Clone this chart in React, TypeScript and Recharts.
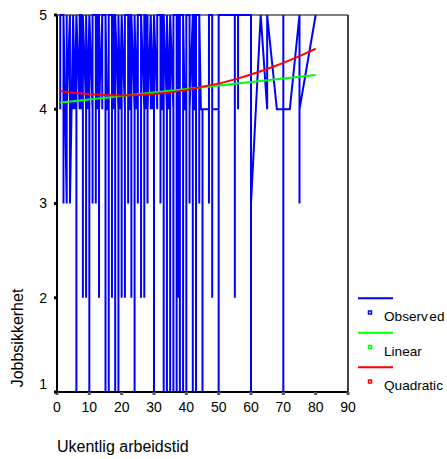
import React from "react";
import { LineChart, Line, XAxis, YAxis, ReferenceLine, Legend, Label } from "recharts";

const FONT = "'Liberation Sans', Arial, sans-serif";

// observed hours (sorted) and the job security answers recorded at each of them
const observedHours = [
  1, 2, 2.5, 3, 4, 5, 5.5, 6, 7, 7.5, 8, 9, 9.5, 10, 11, 12, 12.5, 13, 14, 15, 15.5, 16, 17, 17.5,
  18, 19, 19.5, 20, 21, 22, 22.5, 23, 24, 24.5, 25, 26, 27, 27.5, 28, 29, 29.5, 30, 31, 32, 32.5,
  33, 34, 34.5, 35, 36, 37, 37.5, 38, 39, 39.5, 40, 41, 42, 42.5, 43, 44, 44.5, 45, 47, 48, 50,
  55, 56, 60, 63, 65, 68, 70, 72, 75, 80,
];
const observedScores = [
  [4, 5], [5, 3, 5], [4], [3, 5, 4], [5, 3], [5, 4, 5], [4], [5, 1, 4, 5], [4, 5], [5, 4],
  [5, 2, 5], [4, 2, 5], [4], [5, 1, 3, 5], [4, 3, 5], [5, 3, 4, 5], [4, 5], [5, 2, 4], [5, 4, 5],
  [5, 1, 5], [4], [4, 1, 2, 5], [5, 2, 4], [5, 4, 5], [5, 1, 5], [4, 1, 5], [4], [5, 2, 3, 5],
  [4, 2, 5], [5, 3, 4], [4, 5], [5, 2, 5], [4, 1, 5], [4], [5, 3, 4, 5], [5, 2, 5], [4, 2, 3, 5],
  [5, 4], [5, 3, 4], [5, 4, 5], [4], [5, 1, 2, 4, 5], [4, 5], [5, 3, 4], [4, 5], [5, 1, 2, 5],
  [4, 1, 5], [4], [5, 1, 3, 5], [4, 1, 5], [5, 1, 3, 4, 5], [5, 2, 4, 5], [4, 1, 2, 5],
  [5, 1, 3, 5], [4], [4, 1, 3, 5], [5, 3, 4], [5, 1, 4, 5], [5, 4], [4, 1, 5], [5, 3, 4, 5], [4],
  [4, 1, 3, 4], [4, 3, 4, 5], [5, 2, 4], [4, 1, 5], [5, 2, 5], [5, 4, 5], [5, 1, 3], [5], [4, 5],
  [4], [4, 5, 1, 4], [4], [5, 3, 4], [5],
];

// fitted curves
const fitHours = [1, 5, 10, 15, 20, 25, 30, 35, 40, 45, 50, 55, 60, 65, 70, 75, 80];
const linearFit = [
  4.071, 4.086, 4.104, 4.123, 4.141, 4.16, 4.178, 4.197, 4.215, 4.234, 4.252, 4.271, 4.289,
  4.308, 4.326, 4.345, 4.363,
];
const quadraticFit = [
  4.194, 4.176, 4.159, 4.15, 4.147, 4.151, 4.161, 4.179, 4.203, 4.24, 4.272, 4.317, 4.368,
  4.427, 4.492, 4.564, 4.642,
];

const xTicks = [0, 10, 20, 30, 40, 50, 60, 70, 80, 90];
const yTicks = [1, 2, 3, 4, 5];

const observedData = observedHours.flatMap((h, i) =>
  observedScores[i].map((s) => ({ hours: h, score: s }))
);
const linearData = fitHours.map((h, i) => ({ hours: h, score: linearFit[i] }));
const quadraticData = fitHours.map((h, i) => ({ hours: h, score: quadraticFit[i] }));

const legendItems = [
  { name: "Observed", color: "#0000ff" },
  { name: "Linear", color: "#00ff00" },
  { name: "Quadratic", color: "#ff0000" },
];

const YTick = (props: any) => {
  const { x, y, payload } = props;
  const shift = payload.value === 1 ? -8 : 0;
  return (
    <text x={x} y={y + shift} dy="0.355em" textAnchor="end" fontSize={14} fill="#000" fontFamily={FONT}>
      {payload.value}
    </text>
  );
};

const renderLegend = () => (
  <svg width={89} height={110} style={{ display: "block" }}>
    {legendItems.map((item, i) => {
      const top = i * 34.5;
      return (
        <g key={item.name}>
          <line x1={0} x2={35} y1={top + 8.3} y2={top + 8.3} stroke={item.color} strokeWidth={2} />
          <rect x={10.5} y={top + 21} width={3} height={3} fill="#fff" stroke={item.color} strokeWidth={1.5} />
          <text x={26} y={top + 31} fontSize={13.6} fill="#000" fontFamily={FONT}>
            {item.name === "Observed" ? (
              <>
                <tspan>Observ</tspan>
                <tspan dx={1.5}>ed</tspan>
              </>
            ) : (
              item.name
            )}
          </text>
        </g>
      );
    })}
  </svg>
);

const App: React.FC = () => {
  return (
    <div style={{ position: "absolute", left: 0, top: 0, width: 447, height: 459, background: "#fff" }}>
      <LineChart width={447} height={459} margin={{ top: 15, right: 99, bottom: 0, left: 0 }}>
        <XAxis
          type="number"
          dataKey="hours"
          domain={[0, 90]}
          ticks={xTicks}
          height={67}
          axisLine={{ stroke: "#000", strokeWidth: 2 }}
          tickLine={{ stroke: "#555", strokeWidth: 3 }}
          tickSize={3}
          tickMargin={7}
          tick={{ fontSize: 14, fill: "#000", fontFamily: FONT }}
        >
          <Label
            content={() => (
              <text x={57} y={452} fontSize={16} fill="#000" fontFamily={FONT}>
                Ukentlig arbeidstid
              </text>
            )}
          />
        </XAxis>
        <YAxis
          type="number"
          domain={[1, 5]}
          ticks={yTicks}
          width={57}
          axisLine={{ stroke: "#000", strokeWidth: 2 }}
          tickLine={{ stroke: "#000", strokeWidth: 3 }}
          tickSize={3}
          tickMargin={7}
          tick={<YTick />}
        >
          <Label
            content={() => (
              <text
                x={23}
                y={338}
                transform="rotate(-90, 23, 338)"
                textAnchor="middle"
                fontSize={16}
                fill="#000"
                fontFamily={FONT}
              >
                Jobbsikkerhet
              </text>
            )}
          />
        </YAxis>
        <ReferenceLine y={5} stroke="#000" strokeWidth={1.2} />
        <ReferenceLine x={90} stroke="#000" strokeWidth={1.5} />
        <Line
          data={observedData}
          dataKey="score"
          stroke="#0000ff"
          strokeWidth={2}
          dot={false}
          activeDot={false}
          isAnimationActive={false}
        />
        <Line
          data={linearData}
          dataKey="score"
          stroke="#00ff00"
          strokeWidth={2}
          dot={false}
          activeDot={false}
          isAnimationActive={false}
        />
        <Line
          data={quadraticData}
          dataKey="score"
          stroke="#ff0000"
          strokeWidth={2}
          dot={false}
          activeDot={false}
          isAnimationActive={false}
        />
        <Legend
          layout="vertical"
          align="center"
          verticalAlign="middle"
          content={renderLegend}
          wrapperStyle={{ position: "absolute", left: 358, top: 290, width: 89, height: 110 }}
        />
      </LineChart>
    </div>
  );
};

export default App;
